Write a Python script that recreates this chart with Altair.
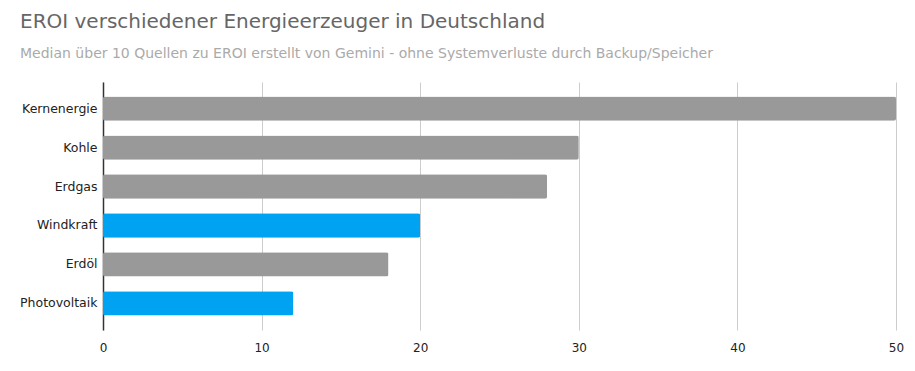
import altair as alt
import pandas as pd

categories = ["Kernenergie", "Kohle", "Erdgas", "Windkraft", "Erdöl", "Photovoltaik"]
values = [50, 30, 28, 20, 18, 12]
groups = ["fossil", "fossil", "fossil", "erneuerbar", "fossil", "erneuerbar"]

df = pd.DataFrame({"Quelle": categories, "EROI": values, "Gruppe": groups})

FONT = "DejaVu Sans"

chart = alt.Chart(df).mark_bar(cornerRadius=2).encode(
    y=alt.Y("Quelle:N", sort=categories, title=None,
            scale=alt.Scale(paddingInner=0.375, paddingOuter=0.37),
            axis=alt.Axis(ticks=False, domain=True, domainColor="#333333", domainWidth=1.5,
                          labelFont=FONT, labelFontSize=12.5, labelColor="#222222",
                          labelPadding=6, grid=False)),
    x=alt.X("EROI:Q", title=None,
            scale=alt.Scale(domain=[0, 50], nice=False),
            axis=alt.Axis(values=[0, 10, 20, 30, 40, 50], ticks=False, domain=False,
                          labelFlush=False,
                          grid=True, gridColor="#cccccc", labelFont=FONT, labelFontSize=12,
                          labelColor="#222222", labelPadding=12)),
    color=alt.Color("Gruppe:N", scale=alt.Scale(domain=["fossil", "erneuerbar"],
                                                 range=["#999999", "#00a2f2"]), legend=None),
).properties(
    width=793,
    height=248,
    title=alt.TitleParams(
        text="EROI verschiedener Energieerzeuger in Deutschland",
        subtitle="Median über 10 Quellen zu EROI erstellt von Gemini - ohne Systemverluste durch Backup/Speicher",
        anchor="start", frame="group", dx=-83, offset=21,
        font=FONT, fontSize=20, fontWeight="normal", color="#666666",
        subtitleFont=FONT, subtitleFontSize=14, subtitleColor="#aaaaaa", subtitlePadding=15,
    ),
).configure(
    padding={"left": 11, "top": 4, "right": 0, "bottom": 5}
).configure_view(stroke=None)

chart.save("out.html", embed_options={"renderer": "svg", "actions": False})
